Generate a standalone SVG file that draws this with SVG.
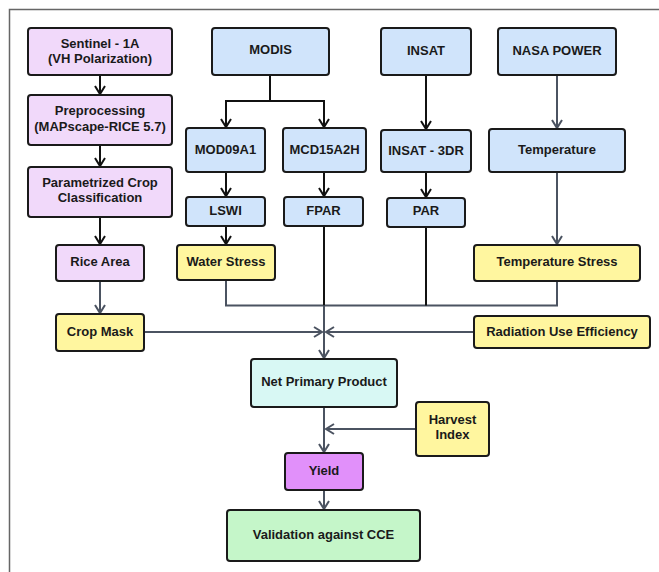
<svg xmlns="http://www.w3.org/2000/svg" width="659" height="572" viewBox="0 0 659 572">
<style>
.n rect{stroke:#1a1a1a;stroke-width:2}
.n text{font-family:"Liberation Sans",Arial,sans-serif;font-weight:bold;font-size:13px;fill:#1a1a1a;text-anchor:middle}
.pk{fill:#f1d9fa}.bl{fill:#d0e4fb}.yl{fill:#fff69f}.np{fill:#d8f8f4}.yd{fill:#e190fa}.vl{fill:#c5f6c9}
.k{stroke:#111;stroke-width:2;fill:none}
.g{stroke:#4b5361;stroke-width:2;fill:none}
</style>
<defs>
<marker id="ak" viewBox="0 0 12 12" refX="10" refY="6" markerWidth="12" markerHeight="12" markerUnits="userSpaceOnUse" orient="auto">
<path d="M2,1 L10,6 L2,11" fill="none" stroke="#111" stroke-width="2"/>
</marker>
<marker id="ag" viewBox="0 0 12 12" refX="10" refY="6" markerWidth="12" markerHeight="12" markerUnits="userSpaceOnUse" orient="auto">
<path d="M2,1 L10,6 L2,11" fill="none" stroke="#4b5361" stroke-width="2"/>
</marker>
</defs>
<rect width="659" height="572" fill="#fff"/>
<rect x="9.5" y="9.5" width="660" height="575" fill="none" stroke="#666" stroke-width="1.5"/>
<g id="connectors">
<path class="k" d="M100,75 V94" marker-end="url(#ak)"/>
<path class="k" d="M100,145 V166" marker-end="url(#ak)"/>
<path class="k" d="M100,217 V244" marker-end="url(#ak)"/>
<path class="g" d="M100,281 V313" marker-end="url(#ag)"/>
<path class="k" d="M270,75 V101 H226 V127" marker-end="url(#ak)"/>
<path class="k" d="M270,101 H324 V127" marker-end="url(#ak)"/>
<path class="k" d="M226,172 V196" marker-end="url(#ak)"/>
<path class="k" d="M324,172 V196" marker-end="url(#ak)"/>
<path class="k" d="M226,226 V244" marker-end="url(#ak)"/>
<path class="k" d="M426,75 V129" marker-end="url(#ak)"/>
<path class="k" d="M426,172 V197" marker-end="url(#ak)"/>
<path class="g" d="M557,75 V128" marker-end="url(#ag)"/>
<path class="g" d="M557,172 V244" marker-end="url(#ag)"/>
<path class="g" d="M226,280 V305.5 H557 V281"/>
<path class="k" d="M426,227 V305.5"/>
<path class="k" d="M324,226 V305.5"/>
<path class="g" d="M324,305.5 V358" marker-end="url(#ag)"/>
<path class="g" d="M144,332 H322" marker-end="url(#ag)"/>
<path class="g" d="M474,332 H326" marker-end="url(#ag)"/>
<path class="g" d="M324,407 V452" marker-end="url(#ag)"/>
<path class="g" d="M416,429 H326" marker-end="url(#ag)"/>
<path class="g" d="M324,490 V509" marker-end="url(#ag)"/>
</g>
<g id="sentinel" class="n"><rect class="pk" x="28" y="28" width="144" height="47" rx="3"/><text x="100" y="48">Sentinel - 1A</text><text x="100" y="63">(VH Polarization)</text></g>
<g id="preprocessing" class="n"><rect class="pk" x="28" y="95" width="144" height="50" rx="3"/><text x="100" y="115">Preprocessing</text><text x="100" y="131">(MAPscape-RICE 5.7)</text></g>
<g id="classification" class="n"><rect class="pk" x="28" y="167" width="144" height="50" rx="3"/><text x="100" y="187">Parametrized Crop</text><text x="100" y="202">Classification</text></g>
<g id="rice-area" class="n"><rect class="pk" x="56" y="245" width="88" height="36" rx="3"/><text x="100" y="266">Rice Area</text></g>
<g id="crop-mask" class="n"><rect class="yl" x="56" y="314" width="88" height="37" rx="3"/><text x="100" y="336">Crop Mask</text></g>
<g id="modis" class="n"><rect class="bl" x="212" y="28" width="117" height="47" rx="3"/><text x="270.5" y="54">MODIS</text></g>
<g id="mod09a1" class="n"><rect class="bl" x="186" y="128" width="79" height="44" rx="3"/><text x="225.5" y="154">MOD09A1</text></g>
<g id="mcd15a2h" class="n"><rect class="bl" x="283" y="128" width="83" height="44" rx="3"/><text x="324.5" y="154">MCD15A2H</text></g>
<g id="lswi" class="n"><rect class="bl" x="186" y="197" width="79" height="29" rx="3"/><text x="225.5" y="215">LSWI</text></g>
<g id="fpar" class="n"><rect class="bl" x="284" y="197" width="79" height="29" rx="3"/><text x="323.5" y="215">FPAR</text></g>
<g id="water-stress" class="n"><rect class="yl" x="177" y="245" width="98" height="35" rx="3"/><text x="226" y="266">Water Stress</text></g>
<g id="insat" class="n"><rect class="bl" x="381" y="28" width="90" height="47" rx="3"/><text x="426" y="55">INSAT</text></g>
<g id="insat-3dr" class="n"><rect class="bl" x="381" y="130" width="90" height="42" rx="3"/><text x="426" y="155">INSAT - 3DR</text></g>
<g id="par" class="n"><rect class="bl" x="387" y="198" width="78" height="29" rx="3"/><text x="426" y="215">PAR</text></g>
<g id="nasa-power" class="n"><rect class="bl" x="498" y="28" width="118" height="47" rx="3"/><text x="557" y="55">NASA POWER</text></g>
<g id="temperature" class="n"><rect class="bl" x="489" y="129" width="136" height="43" rx="3"/><text x="557" y="154">Temperature</text></g>
<g id="temperature-stress" class="n"><rect class="yl" x="474" y="245" width="166" height="36" rx="3"/><text x="557" y="266">Temperature Stress</text></g>
<g id="rue" class="n"><rect class="yl" x="474" y="316" width="176" height="32" rx="3"/><text x="562" y="336">Radiation Use Efficiency</text></g>
<g id="npp" class="n"><rect class="np" x="251" y="359" width="146" height="48" rx="3"/><text x="324" y="386">Net Primary Product</text></g>
<g id="harvest-index" class="n"><rect class="yl" x="416" y="402" width="73" height="54" rx="3"/><text x="452.5" y="424">Harvest</text><text x="452.5" y="439">Index</text></g>
<g id="yield" class="n"><rect class="yd" x="285" y="453" width="78" height="37" rx="3"/><text x="324" y="475">Yield</text></g>
<g id="validation" class="n"><rect class="vl" x="227" y="510" width="193" height="51" rx="3"/><text x="323.5" y="539">Validation against CCE</text></g>
</svg>
